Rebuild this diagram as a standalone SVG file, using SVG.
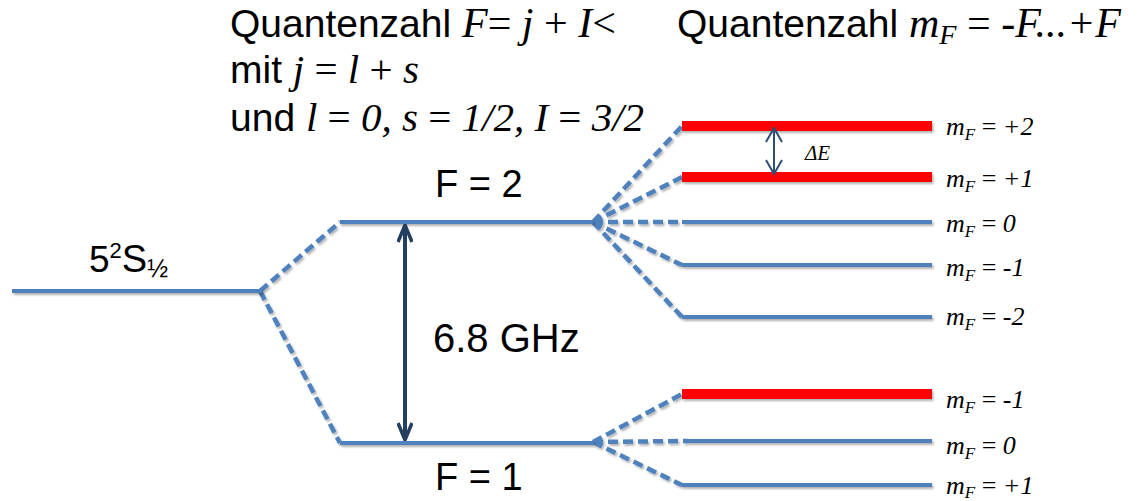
<svg xmlns="http://www.w3.org/2000/svg" width="1145" height="501" viewBox="0 0 1145 501">
<defs>
<style>
.sans{font-family:"Liberation Sans",Arial,sans-serif;fill:#000}
.serif{font-family:"Liberation Serif","Times New Roman",serif;fill:#000}
.it{font-style:italic}
.up{font-style:normal}
.lvl{stroke:#4f81bd;stroke-width:4;fill:none}
.red{stroke:#ff0000;stroke-width:10;fill:none}
.dash{stroke:#4f81bd;stroke-width:4.5;stroke-dasharray:10 5;fill:none}
.lbl{font-family:"Liberation Serif","Times New Roman",serif;font-style:italic;font-size:26px;fill:#000}
</style>
<filter id="sh" filterUnits="userSpaceOnUse" x="0" y="0" width="1145" height="501">
<feDropShadow dx="1.5" dy="2" stdDeviation="1.2" flood-color="#000" flood-opacity="0.3"/>
</filter>
<marker id="ah" viewBox="0 0 20 16" refX="19" refY="8" markerWidth="20" markerHeight="16" markerUnits="userSpaceOnUse" orient="auto-start-reverse">
<path d="M2,1 L19,8 L2,15" fill="none" stroke="#243f60" stroke-width="3.5"/>
</marker>
<marker id="ahs" viewBox="0 0 16 18" refX="15" refY="9" markerWidth="16" markerHeight="18" markerUnits="userSpaceOnUse" orient="auto-start-reverse">
<path d="M1,1 L15,9 L1,17" fill="none" stroke="#2f4f75" stroke-width="2"/>
</marker>
</defs>

<g id="title-left">
<text class="sans" x="230" y="37" font-size="39">Quantenzahl <tspan class="serif it" font-size="42">F</tspan><tspan class="serif" font-size="42">= </tspan><tspan class="serif it" font-size="42">j</tspan><tspan class="serif" font-size="42"> + </tspan><tspan class="serif it" font-size="42">I</tspan><tspan class="serif" font-size="42">&lt;</tspan></text>
<text class="sans" x="230" y="83" font-size="39">mit <tspan class="serif it" font-size="41">j</tspan><tspan class="serif" font-size="41"> = </tspan><tspan class="serif it" font-size="41">l</tspan><tspan class="serif" font-size="41"> + </tspan><tspan class="serif it" font-size="41">s</tspan></text>
<text class="sans" x="230" y="131" font-size="39">und <tspan class="serif it" font-size="41">l</tspan><tspan class="serif" font-size="41"> = </tspan><tspan class="serif it" font-size="41">0, s</tspan><tspan class="serif" font-size="41"> = </tspan><tspan class="serif it" font-size="41">1/2, I</tspan><tspan class="serif" font-size="41"> = </tspan><tspan class="serif it" font-size="41">3/2</tspan></text>
</g>

<g id="title-right">
<text class="sans" x="677" y="37" font-size="39">Quantenzahl <tspan class="serif it" font-size="42">m</tspan><tspan class="serif it" font-size="28" dy="7">F</tspan><tspan class="serif" font-size="42" dy="-7"> = </tspan><tspan class="serif it" font-size="42">-F...+F</tspan></text>
</g>

<g id="connectors" filter="url(#sh)">
<path class="dash" d="M260,291 L340,222 M260,291 L340,443"/>
<path class="dash" d="M593,222 L682,126 M593,222 L682,177 M593,222 L682,222 M593,222 L682,265 M593,222 L682,317"/>
<path class="dash" d="M593,442 L682,394 M593,442 L688,441 M593,442 L682,485"/>
</g>

<g id="ground">
<line class="lvl" x1="12" y1="291" x2="262" y2="291" filter="url(#sh)"/>
<text class="sans" x="89" y="272" font-size="37">5<tspan font-size="22" dy="-14">2</tspan><tspan dy="14" font-size="38">S</tspan><tspan font-size="25" dy="5">½</tspan></text>
</g>

<g id="F2">
<line class="lvl" x1="340" y1="222" x2="593" y2="222" filter="url(#sh)"/>
<text class="sans" x="435" y="197" font-size="38">F = 2</text>
</g>

<g id="F1">
<line class="lvl" x1="340" y1="443" x2="593" y2="443" filter="url(#sh)"/>
<text class="sans" x="435" y="490" font-size="38">F = 1</text>
</g>

<g id="hfs-arrow">
<line x1="405" y1="225" x2="405" y2="440" stroke="#243f60" stroke-width="4" marker-start="url(#ah)" marker-end="url(#ah)"/>
<text class="sans" x="433" y="352" font-size="40">6.8 GHz</text>
</g>

<g id="F2-sublevels" filter="url(#sh)">
<line class="red" x1="682" y1="126" x2="932" y2="126"/>
<line class="red" x1="682" y1="177" x2="932" y2="177"/>
<line class="lvl" x1="682" y1="222" x2="932" y2="222"/>
<line class="lvl" x1="682" y1="265" x2="932" y2="265"/>
<line class="lvl" x1="682" y1="317" x2="932" y2="317"/>
</g>

<g id="F1-sublevels" filter="url(#sh)">
<line class="red" x1="682" y1="394" x2="932" y2="394"/>
<line class="lvl" x1="688" y1="441" x2="932" y2="441"/>
<line class="lvl" x1="682" y1="485" x2="932" y2="485"/>
</g>

<g id="dE">
<line x1="774" y1="128" x2="774" y2="174" stroke="#2f4f75" stroke-width="2" marker-start="url(#ahs)" marker-end="url(#ahs)"/>
<text class="serif it" x="805" y="160" font-size="21">ΔE</text>
</g>

<g id="labels">
<text class="lbl" x="946" y="135">m<tspan font-size="17" dy="5">F</tspan><tspan class="up" dy="-5"> = </tspan>+2</text>
<text class="lbl" x="946" y="187">m<tspan font-size="17" dy="5">F</tspan><tspan class="up" dy="-5"> = </tspan>+1</text>
<text class="lbl" x="946" y="232">m<tspan font-size="17" dy="5">F</tspan><tspan class="up" dy="-5"> = </tspan>0</text>
<text class="lbl" x="946" y="276">m<tspan font-size="17" dy="5">F</tspan><tspan class="up" dy="-5"> = </tspan>-1</text>
<text class="lbl" x="946" y="325">m<tspan font-size="17" dy="5">F</tspan><tspan class="up" dy="-5"> = </tspan>-2</text>
<text class="lbl" x="946" y="408">m<tspan font-size="17" dy="5">F</tspan><tspan class="up" dy="-5"> = </tspan>-1</text>
<text class="lbl" x="946" y="454">m<tspan font-size="17" dy="5">F</tspan><tspan class="up" dy="-5"> = </tspan>0</text>
<text class="lbl" x="946" y="494">m<tspan font-size="17" dy="4">F</tspan><tspan class="up" dy="-4"> = </tspan>+1</text>
</g>
</svg>
